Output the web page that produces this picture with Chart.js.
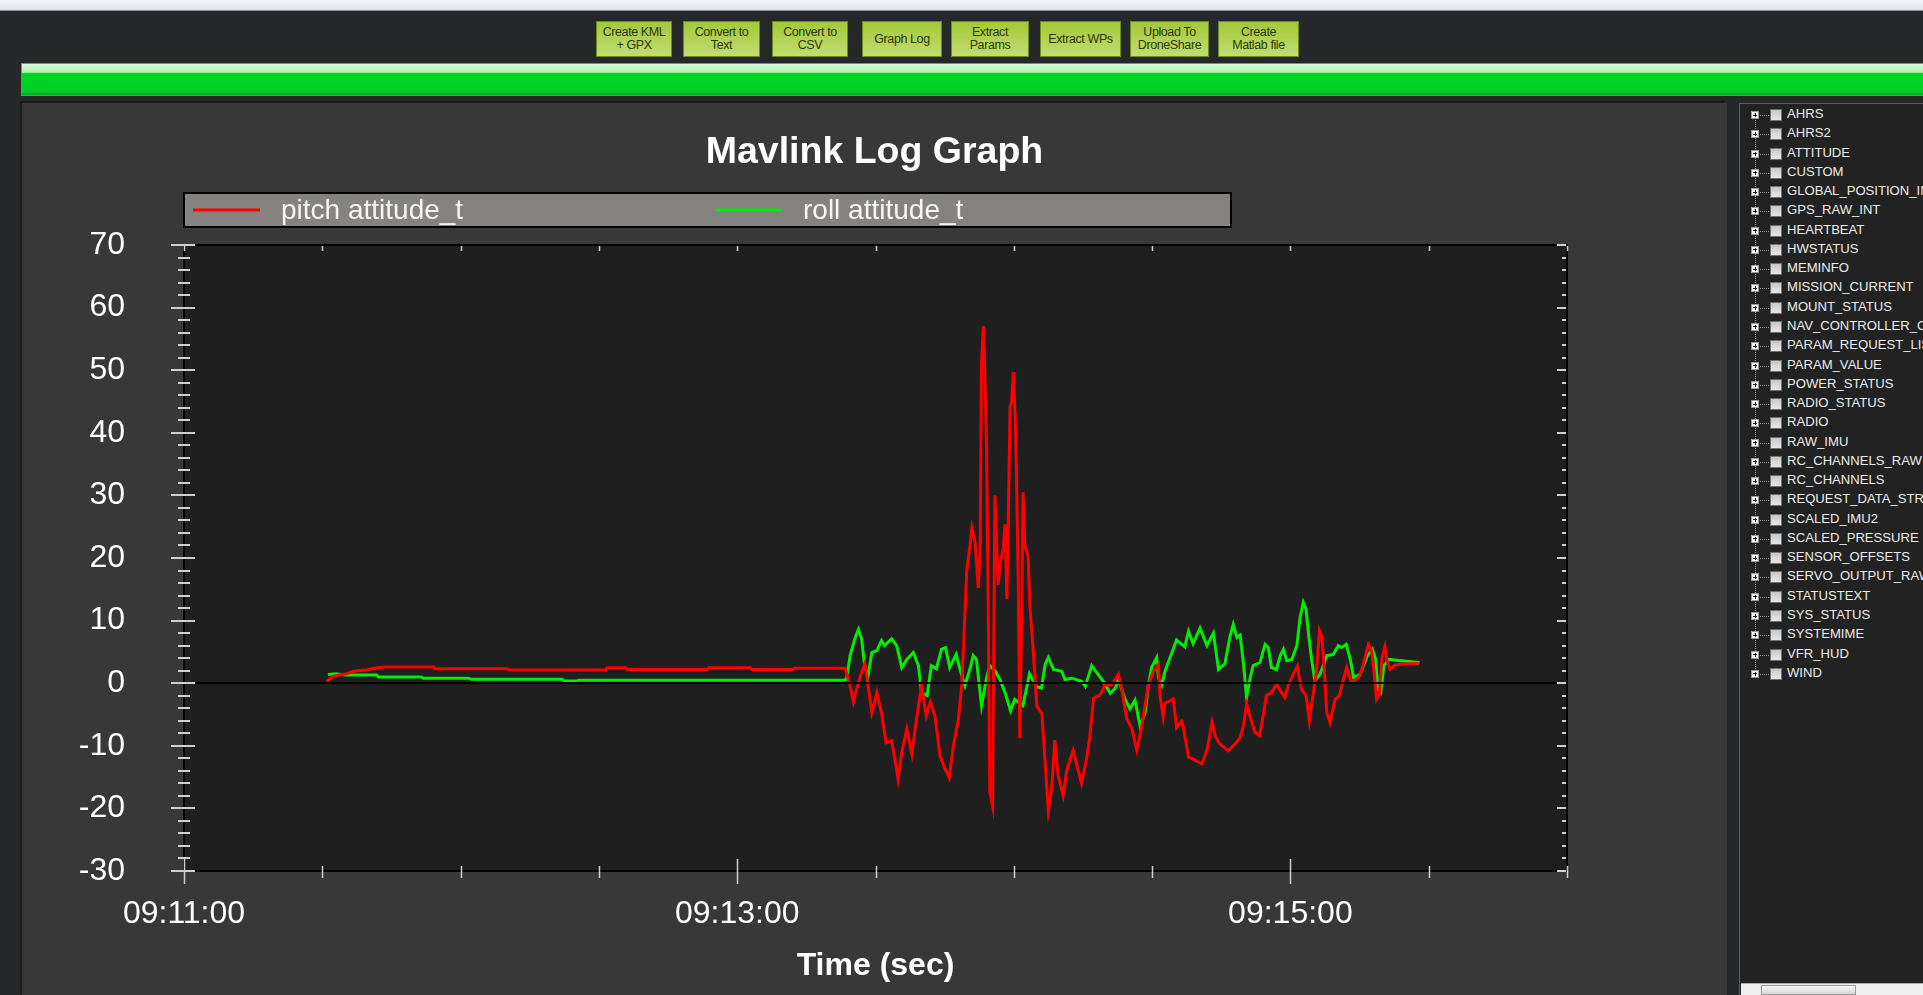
<!DOCTYPE html>
<html>
<head>
<meta charset="utf-8">
<script src="https://cdn.jsdelivr.net/npm/chart.js@4.4.1/dist/chart.umd.min.js"></script>
<style>
  body { margin:0; width:1923px; height:995px; overflow:hidden; background:#262729; position:relative;
         font-family:"Liberation Sans", Arial, sans-serif; }
  #titlebar { position:absolute; left:0; top:0; width:1923px; height:10px;
              background:linear-gradient(#f5f7fa,#dde3ea); border-bottom:1px solid #8c939c; }
  .btn { position:absolute; top:21px; height:36px; box-sizing:border-box; border:1px solid #6c8c1c;
         background:linear-gradient(#a4c838,#c3dc72); color:#2b3808; font-size:12.5px; line-height:13px;
         display:flex; align-items:center; justify-content:center; text-align:center; letter-spacing:-0.4px; }
  #progress { position:absolute; left:21px; top:63px; width:1902px; height:33px; box-sizing:border-box;
              border:1px solid #7d8a7d; border-right:none;
              background:linear-gradient(#dcf8dc 0%, #aef0ae 27%, #00d428 30%, #00cf24 88%, #00aa1c 100%); }
  #panel { position:absolute; left:22px; top:103px; width:1705px; height:892px; background:#383838;
           box-shadow:-2px -2px 0 #1c1c1c; }
  #panel canvas { position:absolute; left:0; top:0; }
  #tree { position:absolute; left:1739px; top:103px; width:184px; height:892px; box-sizing:border-box;
          background:#222222; border-left:1px solid #5c5c5c; border-top:1px solid #5c5c5c; overflow:hidden; }
  #tree .vline { position:absolute; left:15px; top:8px; height:565px; border-left:1px dotted #9a9a9a; }
  .row { position:absolute; left:0; height:18px; width:400px; }
  .plus { position:absolute; left:11px; top:5px; width:8px; height:8px; box-sizing:border-box;
          border:1px solid #9a9a9a; background:#f0f0f0; }
  .plus:before { content:""; position:absolute; left:1px; top:2.5px; width:4px; height:1px; background:#222; }
  .plus:after { content:""; position:absolute; left:2.5px; top:1px; width:1px; height:4px; background:#222; }
  .dots { position:absolute; left:20px; top:9px; width:9px; border-top:1px dotted #9a9a9a; }
  .chk { position:absolute; left:30px; top:3px; width:12px; height:12px; box-sizing:border-box;
         border:1px solid #707070; background:linear-gradient(#c8c8c8,#e8e8e8); }
  .lbl { position:absolute; left:47px; top:0px; font-size:13.1px; line-height:16px; color:#ececec; white-space:nowrap; }
  #hscroll { position:absolute; left:1741px; top:983px; width:182px; height:12px; background:#eeeeee; border-top:1px solid #aaa; }
  #hscroll .thumb { position:absolute; left:20px; top:1px; width:95px; height:10px; background:linear-gradient(#f8f8f8,#d8d8d8); border:1px solid #999; box-sizing:border-box; }
</style>
</head>
<body>
<div id="titlebar"></div>
<div class="btn" style="left:596px;width:76px">Create KML<br>+ GPX</div>
<div class="btn" style="left:683px;width:77px">Convert to<br>Text</div>
<div class="btn" style="left:772px;width:76px">Convert to<br>CSV</div>
<div class="btn" style="left:862px;width:80px">Graph Log</div>
<div class="btn" style="left:951px;width:78px">Extract<br>Params</div>
<div class="btn" style="left:1040px;width:81px">Extract WPs</div>
<div class="btn" style="left:1130px;width:79px">Upload To<br>DroneShare</div>
<div class="btn" style="left:1218px;width:81px">Create<br>Matlab file</div>
<div id="progress"></div>
<div id="panel"><canvas id="graph" width="1705" height="892"></canvas></div>
<div id="tree"><div class="vline"></div></div>
<div id="hscroll"><div class="thumb"></div></div>
<script>
// seconds after 09:11:00
const clockStart = 9 * 3600 + 11 * 60;

const pitchTime = [31.0,32.1,33.7,35.2,36.8,39.5,41.4,43.4,54.2,54.5,
  70.1,70.5,91.5,91.8,95.7,96.2,113.5,113.9,122.8,123.2,
  132.0,132.4,143.3,143.7,144.5,145.2,146.3,147.7,148.4,149.2,
  150.3,151.3,152.3,153.5,154.2,154.9,155.7,156.8,157.9,158.9,
  160.0,161.0,161.9,162.9,164.0,165.1,166.0,166.9,168.0,168.7,
  169.0,169.4,169.8,170.5,170.9,171.6,172.3,172.7,173.0,173.4,
  173.6,174.1,174.5,174.8,175.4,175.7,175.9,176.3,176.6,177.0,
  177.7,178.1,178.5,178.8,179.2,179.5,179.9,180.3,180.6,181.0,
  181.3,181.7,182.0,182.4,183.1,183.5,184.2,185.0,186.1,186.8,
  187.5,188.2,188.9,189.6,190.7,191.5,192.9,194.0,194.7,195.8,
  196.5,197.3,198.7,199.8,201.2,202.7,203.4,204.5,205.6,206.7,
  207.7,208.5,209.2,210.3,211.4,211.7,212.4,212.8,213.9,214.6,
  215.3,216.4,216.8,217.9,219.3,220.8,221.9,223.0,223.7,224.7,
  226.5,228.0,229.1,229.8,230.5,231.2,232.3,233.3,234.1,234.8,
  235.9,237.0,238.1,238.8,239.5,240.6,241.5,242.4,243.4,244.1,
  245.0,245.7,246.3,246.8,247.3,247.9,248.6,249.7,250.6,251.5,
  252.2,253.1,254.0,255.1,256.2,256.9,257.6,258.1,258.7,259.3,
  259.8,260.5,260.9,261.6,262.7,265.2,267.9];
const pitchDeg = [0.3,1.0,1.3,1.5,1.9,2.1,2.4,2.6,2.6,2.3,
  2.3,2.1,2.1,2.45,2.45,2.2,2.2,2.45,2.45,2.2,
  2.2,2.4,2.4,1.7,-0.4,-3.0,0.2,3.1,-0.4,-4.7,
  -1.5,-4.7,-9.5,-9.2,-12.1,-15.3,-11.1,-7.3,-11.3,-5.7,
  -0.4,-5.2,-3.0,-5.2,-11.6,-13.7,-15.1,-10.0,-5.7,-0.4,
  4.3,11.2,18,22,24.8,22.5,15.2,21.4,51,57,
  53,37.4,8.3,-17.4,-19.6,10,30,21.6,15.7,19,
  21.4,25.4,13.4,26,44.2,44.8,49.7,42.5,32.8,14.5,
  -8.8,10,30.5,22,20.3,12.3,5.4,-3.7,-4.8,-12.8,
  -20.4,-17,-9.1,-14.7,-17.9,-13.9,-10.7,-14,-16,-12,
  -8.5,-2.4,-1.9,-0.3,-0.3,1.4,-0.8,-5.7,-7.2,-10.7,
  -7.2,-3.5,-0.3,1.9,3.0,-1.9,-5.4,-3.2,-2.8,-2.5,
  -7.1,-6.1,-7.1,-11.8,-12.3,-12.9,-10.7,-6.3,-8.5,-9.7,
  -10.8,-9.7,-8.7,-6.8,-3.4,-5.2,-7.8,-8.4,-5.2,-2.0,
  -1.5,-0.2,-1.5,-2.3,-0.4,1.4,2.7,-1.0,-2.0,-6.0,
  -1.5,2.2,8.4,7.5,2.8,-4.7,-6.3,-2.6,-2.0,0.6,
  2.5,0.4,0.4,1.2,4.1,6.2,5.2,2.2,-2.6,-1.8,
  3.8,5.8,3.8,2.2,2.9,3.1,3.1];

const rollTime = [31.2,33.0,35.0,36.0,41.8,42.2,51.5,51.9,61.6,62.3,
  82.0,82.4,85.2,85.6,143.0,143.7,144.5,145.6,146.3,147.0,
  147.7,148.4,149.2,150.3,151.3,152.0,153.5,154.6,155.7,156.8,
  158.2,159.3,160.0,161.2,162.1,163.2,164.3,165.2,166.1,167.5,
  168.3,169.4,170.5,171.2,171.9,173.0,174.1,174.8,175.9,177.0,
  178.1,179.3,180.2,182.0,183.4,184.2,185.0,186.0,186.8,187.5,
  188.6,190.4,191.1,192.6,194.7,195.5,196.9,198.0,199.4,200.9,
  202.0,202.7,204.1,205.2,206.3,207.4,208.5,209.2,209.9,211.0,
  211.4,212.1,212.8,213.9,215.3,217.1,217.9,218.9,220.4,221.9,
  223.3,224.4,225.8,226.9,227.6,228.4,229.1,229.8,230.5,231.2,
  231.9,233.4,234.5,235.2,235.9,237.0,237.8,238.5,239.2,240.3,
  241.4,242.1,242.8,243.4,243.9,244.6,245.3,246.4,247.9,249.3,
  250.4,251.1,252.1,253.0,253.7,255.1,256.7,257.8,258.5,259.0,
  259.6,260.3,261.4,263.9,268.0];
const rollDeg = [1.4,1.5,1.3,1.3,1.3,1.0,1.0,0.8,0.8,0.64,
  0.64,0.37,0.37,0.48,0.48,0.6,4.4,7.3,8.6,7.0,
  2.5,1.2,4.9,5.2,6.8,6.0,7.1,6.0,2.5,3.8,
  4.9,2.8,-1.5,-2.0,2.8,2.3,5.4,5.7,2.5,4.6,
  2.3,-0.4,2.3,4.4,3.8,-3.6,0.9,2.8,2.0,0.6,
  -1.5,-4.4,-2.6,-3.6,1.5,0.4,-0.6,-0.8,3.0,4.1,
  2.2,1.9,0.6,0.8,0.3,-0.5,2.8,1.7,0.3,-1.6,
  -0.8,0.6,-2.5,-4.1,-2.7,-6.9,-4.7,-0.3,2.5,4.1,
  0.8,-0.3,1.9,4.1,6.9,5.8,8.3,6.3,8.8,6.0,
  8.0,2.2,3.1,7.5,9.4,7.3,7.7,3.3,-2.3,0.6,
  2.8,3.3,6.2,5.7,2.5,2.2,4.4,5.4,3.6,3.8,
  6.0,10.5,12.9,11.8,8.1,3.8,0.4,1.4,4.4,4.6,
  6.0,5.7,6.2,3.8,0.9,1.4,4.4,5.4,3.8,-1.0,
  -1.5,2.8,3.8,3.6,3.3];

const treeItems = ["AHRS","AHRS2","ATTITUDE","CUSTOM","GLOBAL_POSITION_INT","GPS_RAW_INT","HEARTBEAT",
  "HWSTATUS","MEMINFO","MISSION_CURRENT","MOUNT_STATUS","NAV_CONTROLLER_OUTPUT","PARAM_REQUEST_LIST",
  "PARAM_VALUE","POWER_STATUS","RADIO_STATUS","RADIO","RAW_IMU","RC_CHANNELS_RAW","RC_CHANNELS",
  "REQUEST_DATA_STREAM","SCALED_IMU2","SCALED_PRESSURE","SENSOR_OFFSETS","SERVO_OUTPUT_RAW",
  "STATUSTEXT","SYS_STATUS","SYSTEMIME","VFR_HUD","WIND"];

// message tree on the right
const tree = document.getElementById("tree");
treeItems.forEach((name, i) => {
  const row = document.createElement("div");
  row.className = "row";
  row.style.top = (2 + i * 19.27) + "px";
  row.innerHTML = '<div class="plus"></div><div class="dots"></div><div class="chk"></div><div class="lbl"></div>';
  row.querySelector(".lbl").textContent = name;
  tree.appendChild(row);
});

function clockLabel(sec) {
  const t = clockStart + sec;
  const h = Math.floor(t / 3600), m = Math.floor(t / 60) % 60, s = t % 60;
  return [h, m, s].map(n => String(n).padStart(2, "0")).join(":");
}

const toPoints = (xs, ys) => xs.map((x, i) => ({ x: x, y: ys[i] }));

// plot background, zero line, frame and tick marks
const plotFrame = {
  id: "plotFrame",
  beforeDraw(chart) {
    const { ctx, chartArea: a } = chart;
    ctx.save();
    ctx.fillStyle = "#1f1f1f";
    ctx.fillRect(a.left, a.top, a.right - a.left, a.bottom - a.top);
    ctx.restore();
  },
  afterDatasetsDraw(chart) {
    const { ctx, chartArea: a, scales: { x, y } } = chart;
    const seg = (x1, y1, x2, y2) => { ctx.beginPath(); ctx.moveTo(x1, y1); ctx.lineTo(x2, y2); ctx.stroke(); };
    ctx.save();
    ctx.strokeStyle = "#000";
    ctx.lineWidth = 2;
    const y0 = Math.round(y.getPixelForValue(0));
    seg(a.left, y0, a.right, y0);
    ctx.strokeRect(a.left, a.top, a.right - a.left, a.bottom - a.top);

    ctx.strokeStyle = "#cfcfcf";
    ctx.lineWidth = 2;
    for (let v = -30; v <= 70; v += 2) {
      const py = Math.round(y.getPixelForValue(v));
      const major = v % 10 === 0;
      seg(a.left - (major ? 13 : 6), py, a.left + (major ? 11 : 6), py);
      seg(a.right - (major ? 10 : 5), py, a.right - 1, py);
    }
    ctx.lineWidth = 1.5;
    for (let t = 0; t <= 300; t += 30) {
      const px = Math.round(x.getPixelForValue(t)) + 0.5;
      const major = t % 120 === 0;
      seg(px, a.bottom - (major ? 12 : 5), px, a.bottom + (major ? 13 : 7));
      seg(px, a.top + 1, px, a.top + 6);
    }
    ctx.restore();
  }
};

// grey legend bar above the plot
const legendBar = {
  id: "legendBar",
  afterDraw(chart) {
    const { ctx, chartArea: a } = chart;
    const top = 90, h = 34, w = 1047;
    ctx.save();
    ctx.fillStyle = "#858382";
    ctx.fillRect(a.left, top, w, h);
    ctx.strokeStyle = "#000";
    ctx.lineWidth = 2;
    ctx.strokeRect(a.left, top, w, h);
    const slots = [9, 531];
    chart.data.datasets.forEach((ds, i) => {
      const x0 = a.left + slots[i];
      const cy = top + h / 2;
      ctx.strokeStyle = ds.borderColor;
      ctx.lineWidth = 3;
      ctx.beginPath(); ctx.moveTo(x0, cy); ctx.lineTo(x0 + 67, cy); ctx.stroke();
      ctx.fillStyle = "#f6f6f6";
      ctx.font = '28px "Liberation Sans", Arial, sans-serif';
      ctx.textBaseline = "middle";
      ctx.fillText(ds.label, x0 + 88, cy + 1);
    });
    ctx.restore();
  }
};

Chart.defaults.font.family = '"Liberation Sans", Arial, sans-serif';

new Chart(document.getElementById("graph"), {
  type: "line",
  data: {
    datasets: [
      { label: "pitch attitude_t", data: toPoints(pitchTime, pitchDeg), borderColor: "#ff0000", borderWidth: 3 },
      { label: "roll attitude_t", data: toPoints(rollTime, rollDeg), borderColor: "#00ee00", borderWidth: 3 }
    ]
  },
  options: {
    responsive: false,
    animation: false,
    devicePixelRatio: 1,
    elements: { point: { radius: 0 }, line: { tension: 0 } },
    layout: { padding: 0 },
    plugins: {
      legend: { display: false },
      tooltip: { enabled: false },
      title: {
        display: true,
        text: "Mavlink Log Graph",
        color: "#ffffff",
        font: { size: 37.5, weight: "bold" },
        padding: { top: 27, bottom: 70 }
      }
    },
    scales: {
      x: {
        type: "linear",
        min: 0,
        max: 300,
        grid: { display: false, drawTicks: false },
        border: { display: false },
        ticks: {
          stepSize: 30,
          autoSkip: false,
          maxRotation: 0,
          color: "#ffffff",
          font: { size: 32 },
          padding: 24,
          callback: v => (v % 120 === 0 && v < 300) ? clockLabel(v) : ""
        },
        title: {
          display: true,
          text: "Time (sec)",
          color: "#ffffff",
          font: { size: 32, weight: "bold" },
          padding: { top: 11, bottom: 9.5 }
        },
        afterFit(scale) { scale.height = 124; }
      },
      y: {
        min: -30,
        max: 70,
        grid: { display: false, drawTicks: false },
        border: { display: false },
        ticks: { stepSize: 10, color: "#ffffff", font: { size: 32 }, padding: 59 },
        afterFit(scale) { scale.width = 162; }
      },
      // empty right-hand box that keeps the plot clear of the panel edge
      yRight: {
        position: "right",
        grid: { display: false, drawTicks: false },
        border: { display: false },
        ticks: { display: false },
        afterFit(scale) { scale.width = 160; }
      }
    }
  },
  plugins: [plotFrame, legendBar]
});
</script>
</body>
</html>
